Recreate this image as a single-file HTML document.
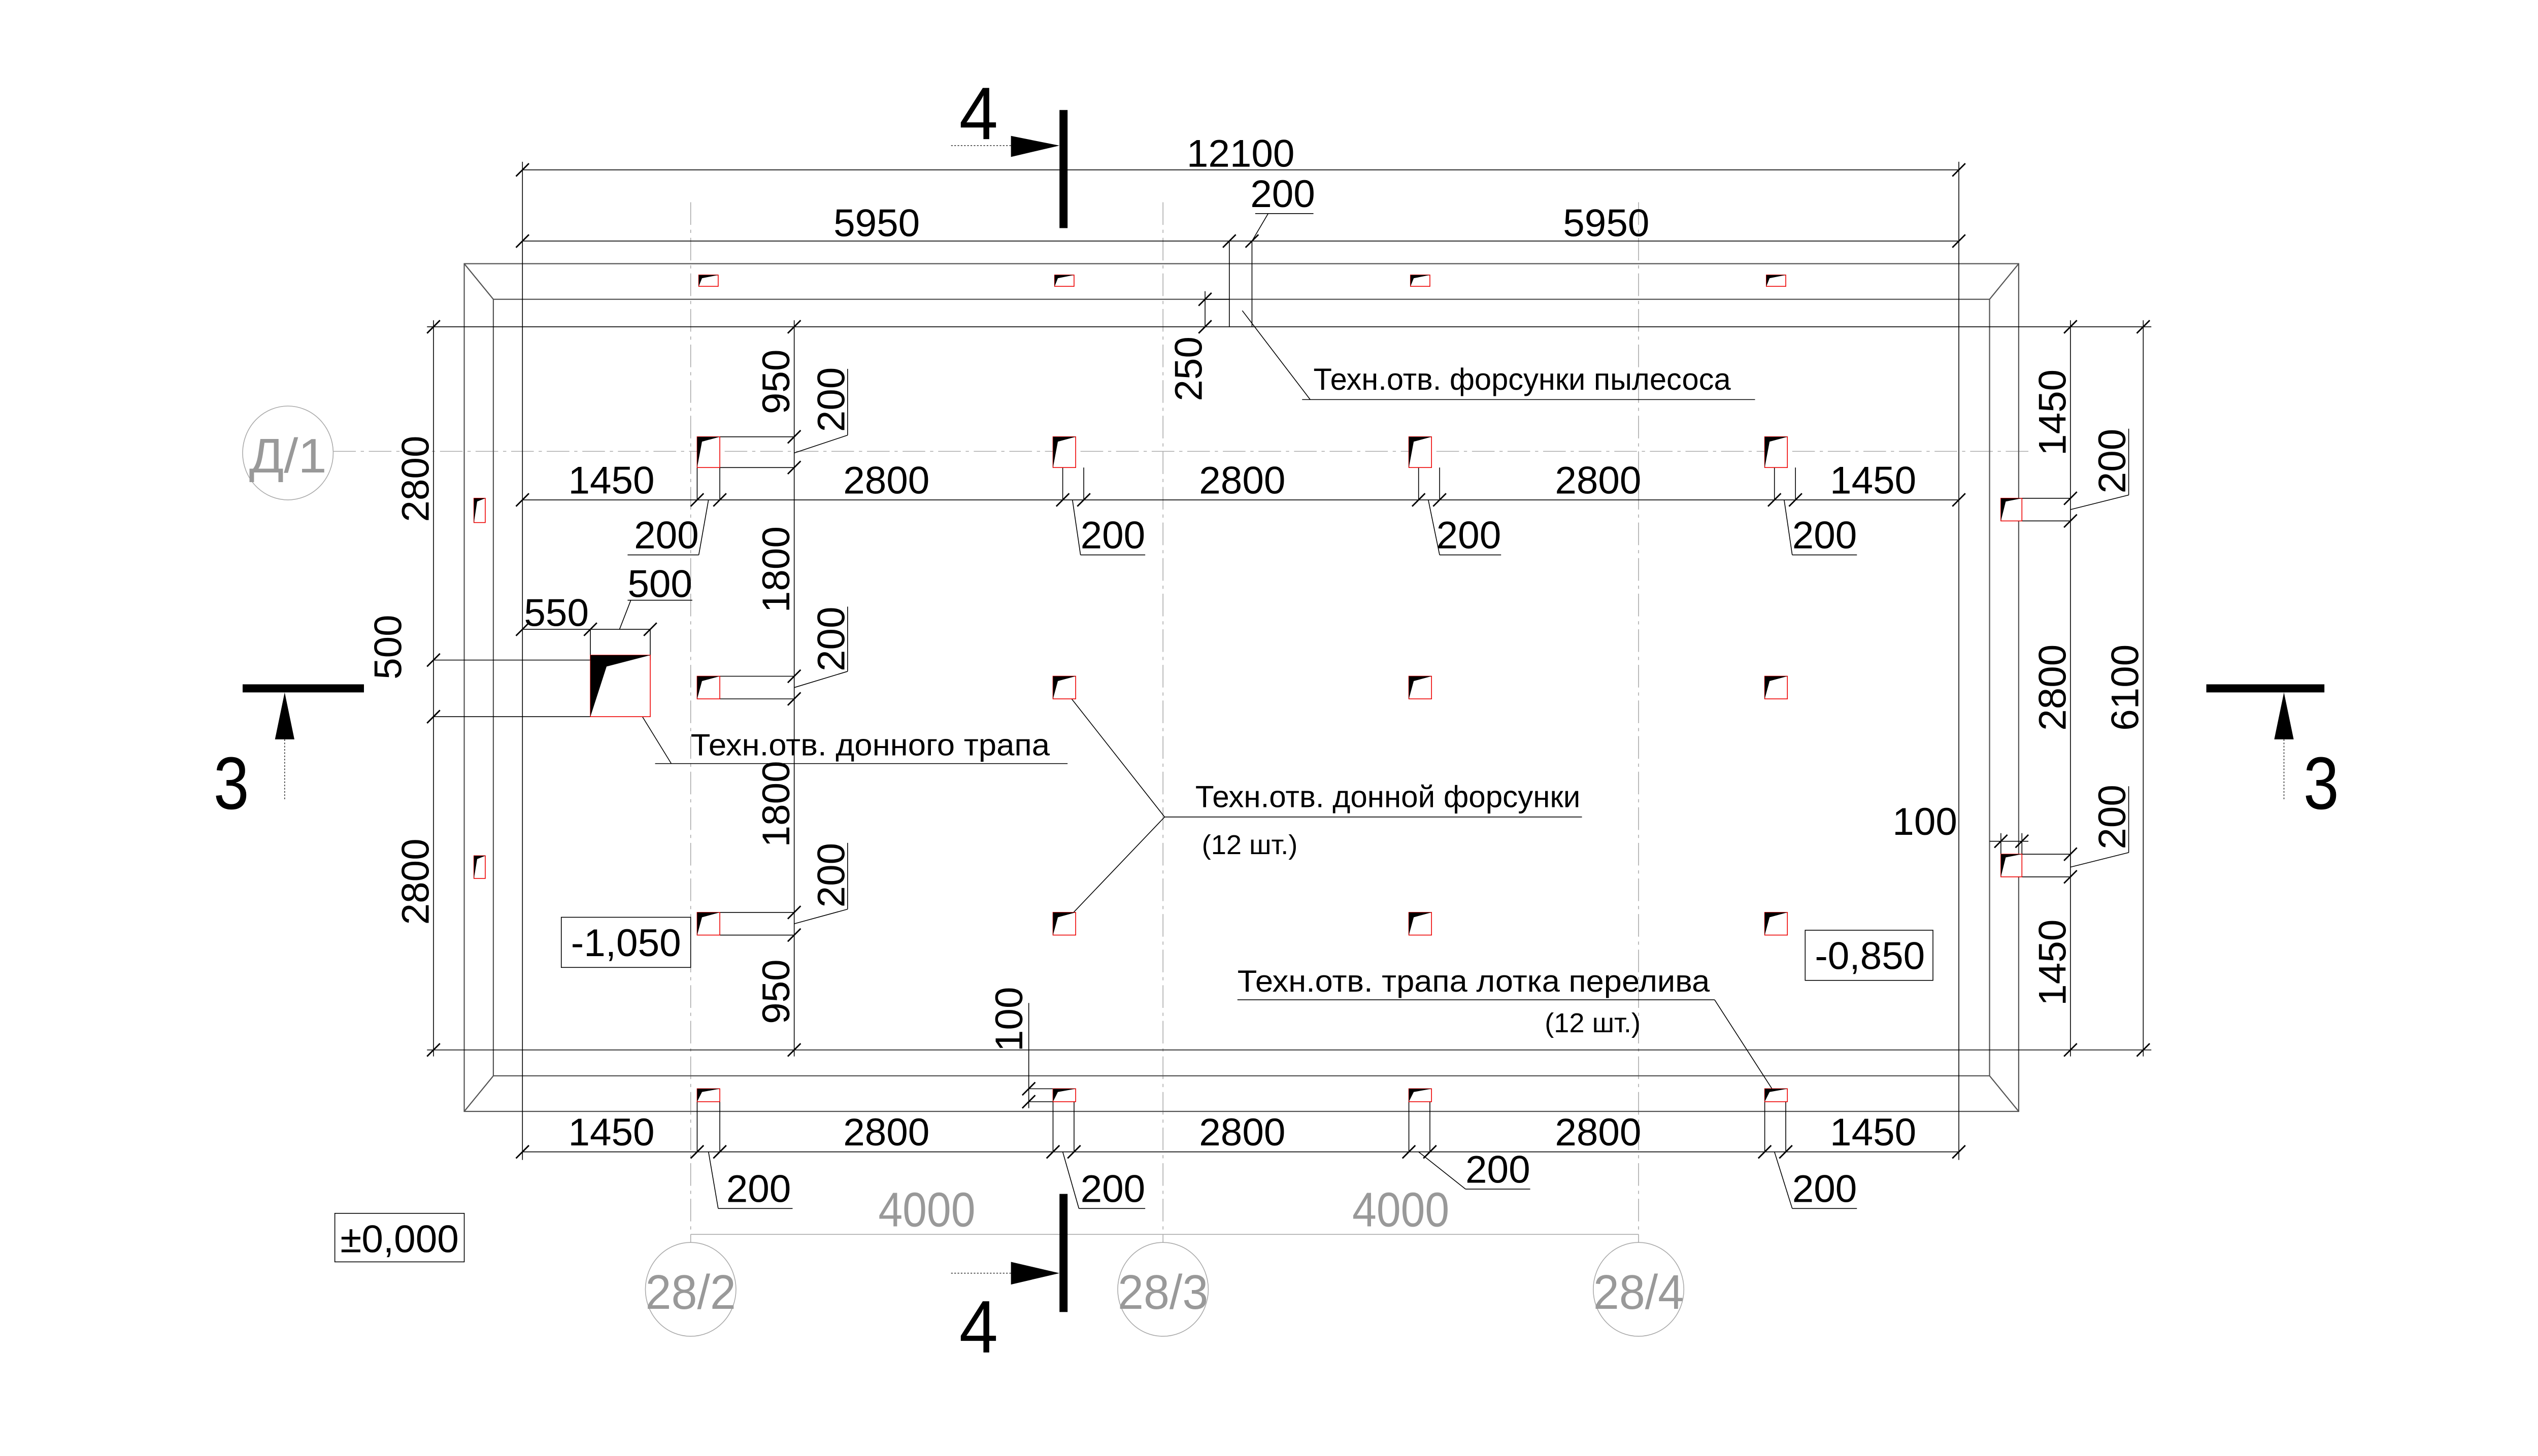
<!DOCTYPE html>
<html><head><meta charset="utf-8"><style>
html,body{margin:0;padding:0;background:#fff;}
svg{display:block;}
text{font-family:"Liberation Sans Narrow","Liberation Sans",sans-serif;}
</style></head><body>
<svg width="5054" height="2869" viewBox="0 0 1586 900" preserveAspectRatio="none" xmlns="http://www.w3.org/2000/svg">
<rect width="1586" height="900" fill="#fff"/>
<g stroke="#aaa" stroke-width="0.5" fill="none" stroke-dasharray="14 3 2 3">
<line x1="427" y1="125" x2="427" y2="768"/>
<line x1="719" y1="125" x2="719" y2="768"/>
<line x1="1013" y1="125" x2="1013" y2="768"/>
<line x1="206" y1="279" x2="1255" y2="279"/>
</g>
<g stroke="#aaa" stroke-width="0.5" fill="none">
<line x1="427" y1="763" x2="1013" y2="763"/>
<ellipse cx="178" cy="280" rx="28" ry="29"/>
<ellipse cx="427" cy="797" rx="28" ry="29"/>
<ellipse cx="719" cy="797" rx="28" ry="29"/>
<ellipse cx="1013" cy="797" rx="28" ry="29"/>
</g>
<g fill="#999" font-size="30" text-anchor="middle">
<text x="178" y="292" textLength="48" lengthAdjust="spacingAndGlyphs">Д/1</text>
<text x="427" y="809" textLength="56" lengthAdjust="spacingAndGlyphs">28/2</text>
<text x="719" y="809" textLength="56" lengthAdjust="spacingAndGlyphs">28/3</text>
<text x="1013" y="809" textLength="56" lengthAdjust="spacingAndGlyphs">28/4</text>
<text x="573" y="758" textLength="60" lengthAdjust="spacingAndGlyphs">4000</text>
<text x="866" y="758" textLength="60" lengthAdjust="spacingAndGlyphs">4000</text>
</g>
<g stroke="#555" stroke-width="0.7" fill="none">
<rect x="287" y="163" width="961" height="524"/>
<rect x="305" y="185" width="925" height="480"/>
<line x1="287" y1="163" x2="305" y2="185"/><line x1="1248" y1="163" x2="1230" y2="185"/>
<line x1="287" y1="687" x2="305" y2="665"/><line x1="1248" y1="687" x2="1230" y2="665"/>
</g>
<g stroke="#000" stroke-width="0.5" fill="none">
<line x1="323" y1="100" x2="323" y2="717"/>
<line x1="1211" y1="100" x2="1211" y2="717"/>
<line x1="264" y1="202" x2="1330" y2="202"/>
<line x1="264" y1="649" x2="1330" y2="649"/>
<line x1="323" y1="105" x2="1211" y2="105"/>
<line x1="323" y1="149" x2="1211" y2="149"/>
<line x1="760" y1="149" x2="760" y2="202"/><line x1="774" y1="149" x2="774" y2="202"/>
<line x1="774" y1="149" x2="784" y2="132"/><line x1="776" y1="132" x2="812" y2="132"/>
<line x1="745" y1="180" x2="745" y2="202"/><line x1="745" y1="185" x2="760" y2="185"/>
<line x1="323" y1="309" x2="1211" y2="309"/>
<line x1="323" y1="712" x2="1211" y2="712"/>
<line x1="268" y1="198" x2="268" y2="653"/>
<line x1="491" y1="198" x2="491" y2="653"/>
<line x1="1280" y1="198" x2="1280" y2="653"/>
<line x1="1325" y1="198" x2="1325" y2="653"/>
<line x1="445" y1="270" x2="491" y2="270"/><line x1="445" y1="289" x2="491" y2="289"/>
<line x1="445" y1="418" x2="491" y2="418"/><line x1="445" y1="432" x2="491" y2="432"/>
<line x1="445" y1="564" x2="491" y2="564"/><line x1="445" y1="578" x2="491" y2="578"/>
<line x1="1250" y1="308" x2="1280" y2="308"/><line x1="1250" y1="322" x2="1280" y2="322"/>
<line x1="1250" y1="528" x2="1280" y2="528"/><line x1="1250" y1="542" x2="1280" y2="542"/>
<line x1="431" y1="289" x2="431" y2="309"/><line x1="445" y1="289" x2="445" y2="309"/>
<line x1="657" y1="289" x2="657" y2="309"/><line x1="670" y1="289" x2="670" y2="309"/>
<line x1="877" y1="289" x2="877" y2="309"/><line x1="890" y1="289" x2="890" y2="309"/>
<line x1="1097" y1="289" x2="1097" y2="309"/><line x1="1110" y1="289" x2="1110" y2="309"/>
<line x1="431" y1="681" x2="431" y2="712"/><line x1="445" y1="681" x2="445" y2="712"/>
<line x1="651" y1="681" x2="651" y2="712"/><line x1="664" y1="681" x2="664" y2="712"/>
<line x1="871" y1="681" x2="871" y2="712"/><line x1="884" y1="681" x2="884" y2="712"/>
<line x1="1091" y1="681" x2="1091" y2="712"/><line x1="1104" y1="681" x2="1104" y2="712"/>
<line x1="636" y1="620" x2="636" y2="685"/><line x1="636" y1="673" x2="651" y2="673"/><line x1="636" y1="681" x2="651" y2="681"/>
<line x1="1237" y1="515" x2="1237" y2="528"/><line x1="1250" y1="515" x2="1250" y2="528"/><line x1="1230" y1="520" x2="1254" y2="520"/>
<line x1="268" y1="408" x2="365" y2="408"/><line x1="268" y1="443" x2="365" y2="443"/>
<line x1="323" y1="389" x2="402" y2="389"/><line x1="365" y1="389" x2="365" y2="408"/><line x1="402" y1="389" x2="402" y2="408"/>
<line x1="383" y1="389" x2="390" y2="371"/><line x1="388" y1="371" x2="428" y2="371"/>
<line x1="438" y1="309" x2="432" y2="343"/><line x1="388" y1="343" x2="432" y2="343"/>
<line x1="663" y1="309" x2="668" y2="343"/><line x1="668" y1="343" x2="708" y2="343"/>
<line x1="883" y1="309" x2="890" y2="343"/><line x1="890" y1="343" x2="928" y2="343"/>
<line x1="1103" y1="309" x2="1108" y2="343"/><line x1="1108" y1="343" x2="1148" y2="343"/>
<line x1="438" y1="712" x2="444" y2="747"/><line x1="444" y1="747" x2="490" y2="747"/>
<line x1="657" y1="712" x2="667" y2="747"/><line x1="667" y1="747" x2="708" y2="747"/>
<line x1="877" y1="712" x2="906" y2="735"/><line x1="906" y1="735" x2="946" y2="735"/>
<line x1="1097" y1="712" x2="1108" y2="747"/><line x1="1108" y1="747" x2="1148" y2="747"/>
<line x1="491" y1="280" x2="524" y2="269"/><line x1="524" y1="269" x2="524" y2="228"/>
<line x1="491" y1="425" x2="524" y2="415"/><line x1="524" y1="415" x2="524" y2="375"/>
<line x1="491" y1="571" x2="524" y2="562"/><line x1="524" y1="562" x2="524" y2="521"/>
<line x1="1280" y1="315" x2="1316" y2="306"/><line x1="1316" y1="306" x2="1316" y2="265"/>
<line x1="1280" y1="536" x2="1316" y2="527"/><line x1="1316" y1="527" x2="1316" y2="486"/>
<line x1="768" y1="192" x2="810" y2="247"/><line x1="805" y1="247" x2="1085" y2="247"/>
<line x1="383" y1="420" x2="415" y2="472"/><line x1="405" y1="472" x2="660" y2="472"/>
<line x1="657" y1="425" x2="720" y2="505"/><line x1="657" y1="571" x2="720" y2="505"/><line x1="720" y1="505" x2="978" y2="505"/>
<line x1="765" y1="618" x2="1060" y2="618"/><line x1="1060" y1="618" x2="1100" y2="680"/>
<rect x="347" y="567" width="80" height="31"/>
<rect x="1116" y="575" width="79" height="31"/>
<rect x="207" y="750" width="80" height="30"/>
</g>
<g stroke="#000" stroke-width="0.9">
<path d="M319 109L327 101M1207 109L1215 101M319 153L327 145M756 153L764 145M770 153L778 145M1207 153L1215 145
M319 313L327 305M427 313L435 305M441 313L449 305M653 313L661 305M666 313L674 305M873 313L881 305M886 313L894 305M1093 313L1101 305M1106 313L1114 305M1207 313L1215 305
M319 716L327 708M427 716L435 708M441 716L449 708M647 716L655 708M660 716L668 708M867 716L875 708M880 716L888 708M1087 716L1095 708M1100 716L1108 708M1207 716L1215 708
M264 206L272 198M264 412L272 404M264 447L272 439M264 653L272 645
M487 206L495 198M487 274L495 266M487 293L495 285M487 422L495 414M487 436L495 428M487 568L495 560M487 582L495 574M487 653L495 645
M1276 206L1284 198M1276 312L1284 304M1276 326L1284 318M1276 532L1284 524M1276 546L1284 538M1276 653L1284 645
M1321 206L1329 198M1321 653L1329 645
M319 393L327 385M361 393L369 385M398 393L406 385
M741 189L749 181M741 206L749 198
M632 677L640 669M632 685L640 677
M1233 524L1241 516M1246 524L1254 516"/>
</g>
<g stroke="#e00" stroke-width="0.5" fill="#fff">
<rect x="432" y="170" width="12" height="7"/><rect x="652" y="170" width="12" height="7"/><rect x="872" y="170" width="12" height="7"/><rect x="1092" y="170" width="12" height="7"/>
<rect x="431" y="270" width="14" height="19"/><rect x="651" y="270" width="14" height="19"/><rect x="871" y="270" width="14" height="19"/><rect x="1091" y="270" width="14" height="19"/>
<rect x="431" y="418" width="14" height="14"/><rect x="651" y="418" width="14" height="14"/><rect x="871" y="418" width="14" height="14"/><rect x="1091" y="418" width="14" height="14"/>
<rect x="431" y="564" width="14" height="14"/><rect x="651" y="564" width="14" height="14"/><rect x="871" y="564" width="14" height="14"/><rect x="1091" y="564" width="14" height="14"/>
<rect x="431" y="673" width="14" height="8"/><rect x="651" y="673" width="14" height="8"/><rect x="871" y="673" width="14" height="8"/><rect x="1091" y="673" width="14" height="8"/>
<rect x="293" y="308" width="7" height="15"/><rect x="293" y="529" width="7" height="14"/>
<rect x="1237" y="308" width="13" height="14"/><rect x="1237" y="528" width="13" height="14"/>
<rect x="365" y="405" width="37" height="38"/>
</g>
<g fill="#000">
<path d="M432 170L444 170L434 172L432 177Z M652 170L664 170L654 172L652 177Z M872 170L884 170L874 172L872 177Z M1092 170L1104 170L1094 172L1092 177Z"/>
<path d="M431 270L445 270L434 273L431 289Z M651 270L665 270L654 273L651 289Z M871 270L885 270L874 273L871 289Z M1091 270L1105 270L1094 273L1091 289Z"/>
<path d="M431 418L445 418L434 421L431 432Z M651 418L665 418L654 421L651 432Z M871 418L885 418L874 421L871 432Z M1091 418L1105 418L1094 421L1091 432Z"/>
<path d="M431 564L445 564L434 567L431 578Z M651 564L665 564L654 567L651 578Z M871 564L885 564L874 567L871 578Z M1091 564L1105 564L1094 567L1091 578Z"/>
<path d="M431 673L445 673L434 675L431 681Z M651 673L665 673L654 675L651 681Z M871 673L885 673L874 675L871 681Z M1091 673L1105 673L1094 675L1091 681Z"/>
<path d="M293 308L300 308L295 310L293 323Z M293 529L300 529L295 531L293 543Z M1237 308L1250 308L1240 310L1237 322Z M1237 528L1250 528L1240 530L1237 542Z"/>
<path d="M365 405L402 405L375 412L365 443Z"/>
</g>
<g fill="#000" stroke="none">
<rect x="655" y="68" width="5" height="73"/>
<rect x="655" y="738" width="5" height="73"/>
<rect x="150" y="423" width="75" height="5"/>
<rect x="1364" y="423" width="73" height="5"/>
<path d="M625 84L655 90L625 97Z"/>
<path d="M625 780L655 787L625 794Z"/>
<path d="M170 457L176 428L182 457Z"/>
<path d="M1406 457L1412 428L1418 457Z"/>
</g>
<g stroke="#000" stroke-width="0.4" stroke-dasharray="1 1">
<line x1="588" y1="90" x2="626" y2="90"/><line x1="588" y1="787" x2="626" y2="787"/>
<line x1="176" y1="457" x2="176" y2="495"/><line x1="1412" y1="457" x2="1412" y2="495"/>
</g>
<g fill="#000" font-size="46">
<text x="593" y="86" textLength="24" lengthAdjust="spacingAndGlyphs">4</text><text x="593" y="836" textLength="24" lengthAdjust="spacingAndGlyphs">4</text>
<text x="132" y="500" textLength="22" lengthAdjust="spacingAndGlyphs">3</text><text x="1424" y="500" textLength="22" lengthAdjust="spacingAndGlyphs">3</text>
</g>
<g fill="#000" font-size="24" text-anchor="middle">
<text x="767" y="103">12100</text>
<text x="542" y="146">5950</text><text x="993" y="146">5950</text>
<text x="793" y="128">200</text>
<text x="378" y="305">1450</text><text x="548" y="305">2800</text><text x="768" y="305">2800</text><text x="988" y="305">2800</text><text x="1158" y="305">1450</text>
<text x="412" y="339">200</text><text x="688" y="339">200</text><text x="908" y="339">200</text><text x="1128" y="339">200</text>
<text x="378" y="708">1450</text><text x="548" y="708">2800</text><text x="768" y="708">2800</text><text x="988" y="708">2800</text><text x="1158" y="708">1450</text>
<text x="469" y="743">200</text><text x="688" y="743">200</text><text x="926" y="731">200</text><text x="1128" y="743">200</text>
<text x="344" y="387">550</text><text x="408" y="369">500</text>
<text x="1190" y="516">100</text>
<text x="387" y="591">-1,050</text>
<text x="1156" y="599">-0,850</text>
<text x="247" y="774">±0,000</text>
</g>
<g fill="#000" font-size="24" text-anchor="middle">
<text transform="translate(265,296) rotate(-90)">2800</text>
<text transform="translate(265,545) rotate(-90)">2800</text>
<text transform="translate(248,400) rotate(-90)">500</text>
<text transform="translate(488,236) rotate(-90)">950</text>
<text transform="translate(488,352) rotate(-90)">1800</text>
<text transform="translate(488,497) rotate(-90)">1800</text>
<text transform="translate(488,613) rotate(-90)">950</text>
<text transform="translate(522,247) rotate(-90)">200</text>
<text transform="translate(522,395) rotate(-90)">200</text>
<text transform="translate(522,541) rotate(-90)">200</text>
<text transform="translate(743,228) rotate(-90)">250</text>
<text transform="translate(632,630) rotate(-90)">100</text>
<text transform="translate(1277,255) rotate(-90)">1450</text>
<text transform="translate(1277,425) rotate(-90)">2800</text>
<text transform="translate(1277,595) rotate(-90)">1450</text>
<text transform="translate(1322,425) rotate(-90)">6100</text>
<text transform="translate(1314,285) rotate(-90)">200</text>
<text transform="translate(1314,505) rotate(-90)">200</text>
</g>
<g fill="#000" font-size="19">
<text x="812" y="241" textLength="258" lengthAdjust="spacingAndGlyphs">Техн.отв. форсунки пылесоса</text>
<text x="427" y="467" textLength="222" lengthAdjust="spacingAndGlyphs">Техн.отв. донного трапа</text>
<text x="739" y="499" textLength="238" lengthAdjust="spacingAndGlyphs">Техн.отв. донной форсунки</text>
<text x="743" y="528" font-size="17">(12 шт.)</text>
<text x="765" y="613" textLength="292" lengthAdjust="spacingAndGlyphs">Техн.отв. трапа лотка перелива</text>
<text x="955" y="638" font-size="17">(12 шт.)</text>
</g>
</svg>
</body></html>
